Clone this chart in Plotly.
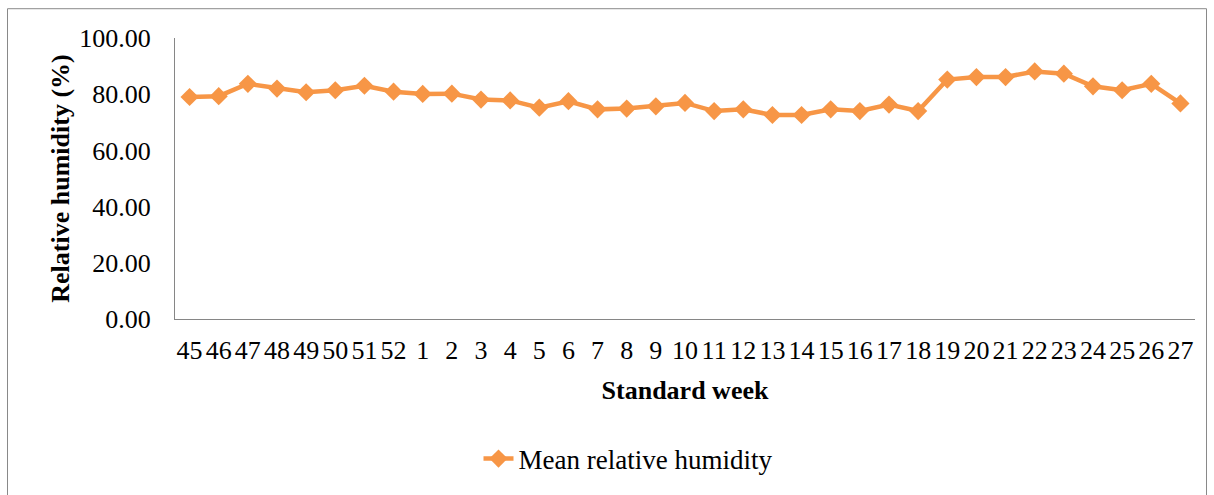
import plotly.graph_objects as go

weeks = ["45", "46", "47", "48", "49", "50", "51", "52", "1", "2", "3", "4", "5", "6", "7", "8", "9",
         "10", "11", "12", "13", "14", "15", "16", "17", "18", "19", "20", "21", "22", "23", "24",
         "25", "26", "27"]
rh = [79.0, 79.3, 83.7, 82.0, 80.7, 81.4, 83.0, 80.9, 80.1, 80.2, 78.1, 77.8, 75.2, 77.5, 74.6,
      74.9, 75.7, 76.9, 74.0, 74.6, 72.6, 72.6, 74.6, 74.0, 76.3, 74.0, 85.2, 86.1, 86.1, 88.1,
      87.3, 82.8, 81.4, 83.7, 76.7]
y_ticks = [0, 20, 40, 60, 80, 100]

ORANGE = "#F79646"
FONT = "Liberation Serif"
FS = 26

fig = go.Figure()
fig.add_trace(go.Scatter(
    x=weeks, y=rh, mode="lines+markers", name="Mean relative humidity",
    line=dict(color=ORANGE, width=4.5),
    marker=dict(symbol="diamond", size=14, color=ORANGE),
))

W, H = 1214, 495
L, R, T, B = 175, 19, 38, 174
pw = W - L - R
ph = H - T - B

def px_x(x):
    return (x - L) / pw

def px_y(y):
    return (H - B - y) / ph

fig.update_layout(
    width=W, height=H,
    margin=dict(l=L, r=R, t=T, b=B),
    paper_bgcolor="white", plot_bgcolor="white",
    font=dict(family=FONT, size=FS, color="black"),
    showlegend=True,
    legend=dict(orientation="h", x=px_x(628), y=px_y(462), xanchor="center", yanchor="middle",
                font=dict(family=FONT, size=FS + 1, color="black"), bgcolor="rgba(0,0,0,0)"),
    xaxis=dict(type="category", range=[-0.5, len(weeks) - 0.5], tickmode="linear", dtick=1,
               tickangle=0, showgrid=False, zeroline=False,
               showline=True, linecolor="#868686", linewidth=1, ticks="", ticklabelstandoff=8,
               tickfont=dict(family=FONT, size=FS, color="black"),
               title=dict(text="<b>Standard week</b>", standoff=16,
                          font=dict(family=FONT, size=FS, color="black"))),
    yaxis=dict(range=[0, 100], tickvals=y_ticks, tickformat=".2f", showgrid=False,
               zeroline=False, showline=True, linecolor="#868686", linewidth=1, ticks="",
               ticklabelstandoff=18,
               tickfont=dict(family=FONT, size=FS, color="black"),
               title=dict(text="<b>Relative humidity (%)</b>", standoff=2,
                          font=dict(family=FONT, size=FS, color="black"))),
    shapes=[dict(type="rect", xref="paper", yref="paper",
                 x0=px_x(7.5), x1=px_x(1206.5), y0=px_y(520), y1=px_y(8.5),
                 line=dict(color="#898989", width=1), fillcolor="rgba(0,0,0,0)", layer="below")],
)

fig.write_html("out.html")
